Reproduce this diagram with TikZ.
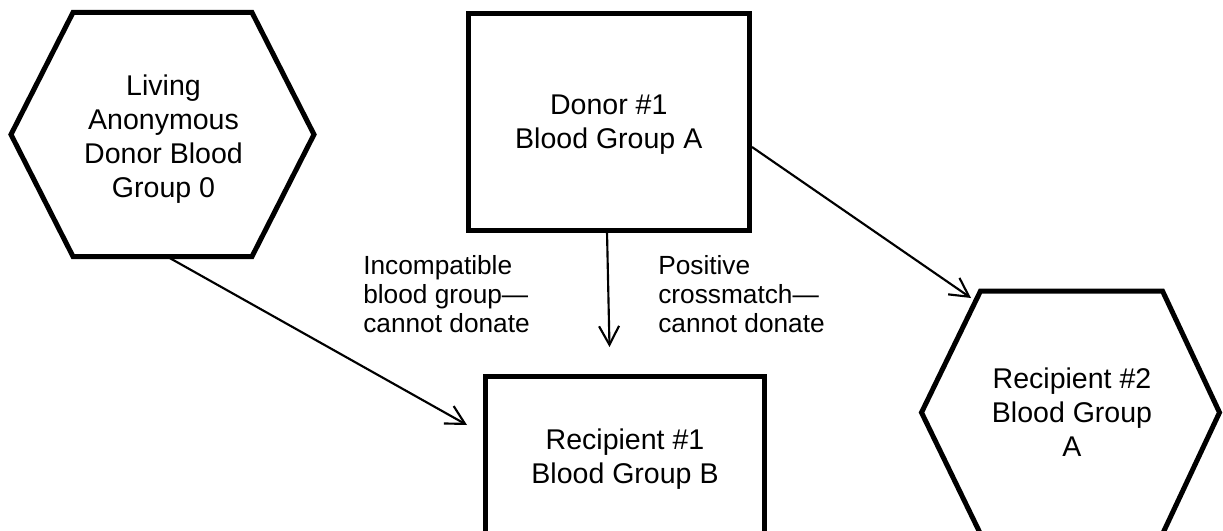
\documentclass[tikz,border=0pt]{standalone}
\usepackage{fontspec}
\setmainfont{Liberation Sans}
\usetikzlibrary{arrows.meta}
\begin{document}
\begin{tikzpicture}[x=0.75pt,y=-0.75pt,
  shapeline/.style={line width=3.75pt, line join=miter},
  maintext/.style={font=\fontsize{21.4pt}{25.5pt}\selectfont, text depth=0pt},
  boxnode/.style={draw, shapeline, rectangle, inner sep=0pt, align=center, maintext},
  hextext/.style={inner sep=0pt, align=center, maintext},
  labeltext/.style={inner sep=0pt, align=left, font=\fontsize{19.7pt}{21.75pt}\selectfont, text depth=0pt, anchor=south west},
  conn/.style={line width=1.6pt, -{Straight Barb[length=14pt,width=15pt]}}
]
\useasboundingbox (0,0) rectangle (1223,531);

% Living anonymous donor (hexagon)
\draw[shapeline] (11,134.5) -- (73,12.5) -- (252,12.5) -- (314,134.5) -- (252,256.5) -- (73,256.5) -- cycle;
\node[hextext] (living) at (163.5,136.5) {Living\\Anonymous\\Donor Blood\\Group 0};

% Donor #1 (box)
\node[boxnode, minimum width=211.1pt, minimum height=162pt] (donor) at (608.75,122) {Donor \#1\\Blood Group A};

% Recipient #1 (box, cut by the page bottom)
\node[boxnode, minimum width=209.4pt, minimum height=119.25pt] (rec1) at (625,456) {Recipient \#1\\Blood Group B};

% Recipient #2 (hexagon)
\draw[shapeline] (921.5,412.5) -- (980.5,291) -- (1162.5,291) -- (1219.5,412.5) -- (1162.5,534) -- (980.5,534) -- cycle;
\node[hextext] (rec2) at (1072,412.5) {Recipient \#2\\Blood Group\\A};

% labels
\node[labeltext] (incomp) at (363,333) {Incompatible\\blood group—\\cannot donate};
\node[labeltext] (posx) at (658,333) {Positive\\crossmatch—\\cannot donate};

% connectors
\coordinate (a1s) at (167,256.5);
\coordinate (a1e) at (467,425);
\coordinate (a2e) at (609.5,347);
\coordinate (a3e) at (971,298);
\draw[conn] (a1s) -- (a1e);
\draw[conn] ([xshift=-1.3pt]donor.south) -- (a2e);
\draw[conn] ([yshift=-18.75pt]donor.east) -- (a3e);
\end{tikzpicture}
\end{document}
